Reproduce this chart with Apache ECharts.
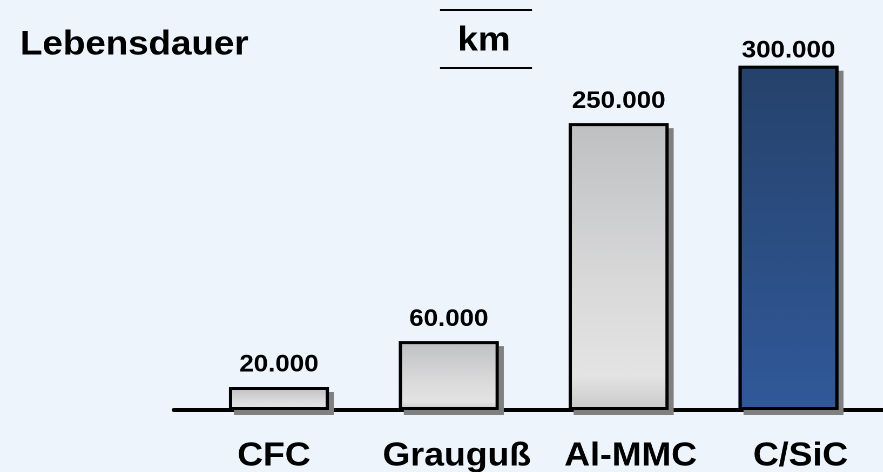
<!DOCTYPE html>
<html>
<head>
<meta charset="utf-8">
<script src="https://cdn.jsdelivr.net/npm/echarts@6/dist/echarts.min.js"></script>
<style>
  html, body { margin: 0; padding: 0; background: #edf4fc; overflow: hidden; }
  #chart { height: 472px; transform-origin: 0 0; }
</style>
</head>
<body>
<div id="chart"></div>
<script>
// Brake disc materials and their service life in kilometres
const categories = ['CFC', 'Grauguß', 'Al-MMC', 'C/SiC'];
const lifetimeKm = [20000, 60000, 250000, 300000];
const highlightCategory = 'C/SiC';
const unitLabel = 'km';
const chartTitle = 'Lebensdauer';

// The slide artwork is set in a slightly widened face: the chart is laid out
// in a narrower box and stretched horizontally to the full page width.
const PAGE_W = 883;
const STRETCH = 1.08;
const sx = px => px / STRETCH;

const FONT = '"Liberation Sans", Arial, Helvetica, sans-serif';
const INK = '#000000';

const gradient = stops => new echarts.graphic.LinearGradient(0, 0, 0, 1,
  stops.map(([offset, color]) => ({ offset, color })));
const SILVER = [[0, '#bfc0c2'], [0.55, '#d9d9da'], [0.88, '#e4e4e4'], [1, '#c9c9c9']];
const NAVY = [[0, '#25426b'], [1, '#31599a']];

// German thousands separator: 250000 -> "250.000"
const formatKm = v => String(v).replace(/\B(?=(\d{3})+(?!\d))/g, '.');

const maxValue = Math.max(...lifetimeKm);

const fillData = lifetimeKm.map((v, i) => ({
  value: v,
  itemStyle: { color: gradient(categories[i] === highlightCategory ? NAVY : SILVER) }
}));
const outlineData = lifetimeKm.map(v => ({
  value: v,
  label: { distance: v === maxValue ? 3 : 10 }
}));

const labelFont = { fontFamily: FONT, fontWeight: 'bold', fontSize: 33, lineHeight: 33, color: INK };

const el = document.getElementById('chart');
el.style.width = sx(PAGE_W) + 'px';
el.style.transform = `scaleX(${STRETCH})`;

const chart = echarts.init(el, null, { renderer: 'canvas', devicePixelRatio: 2 });

chart.setOption({
  backgroundColor: '#edf4fc',
  animation: false,
  title: {
    text: chartTitle,
    left: sx(20),
    top: 28,
    padding: 0,
    textStyle: { fontFamily: FONT, fontWeight: 'bold', fontSize: 34, lineHeight: 34, color: INK }
  },
  graphic: [
    { type: 'line', shape: { x1: sx(440), y1: 10, x2: sx(532), y2: 10 }, style: { stroke: INK, lineWidth: 2 } },
    { type: 'line', shape: { x1: sx(440), y1: 68, x2: sx(532), y2: 68 }, style: { stroke: INK, lineWidth: 2 } },
    {
      type: 'text', x: sx(484), y: 41,
      style: {
        text: unitLabel, fill: INK, align: 'center', verticalAlign: 'middle',
        font: 'bold 34px ' + FONT
      }
    }
  ],
  grid: [
    { left: sx(194), right: sx(10), top: 65.8, bottom: 62, outerBoundsMode: 'none' },
    { left: sx(174), right: 0, top: 65.8, bottom: 62, outerBoundsMode: 'none' }
  ],
  xAxis: [
    {
      type: 'category',
      gridIndex: 0,
      data: categories,
      axisLine: { show: false },
      axisTick: { show: false },
      splitLine: { show: false },
      axisLabel: {
        interval: 0,
        margin: 30,
        ...labelFont,
        formatter: (v, i) => `{c${i}|${v}}`,
        rich: {
          c0: { ...labelFont, padding: [0, sx(10), 0, 0] },
          c1: { ...labelFont, padding: [0, 0, 0, sx(16)] },
          c2: { ...labelFont, padding: [0, 0, 0, sx(24)] },
          c3: { ...labelFont, padding: [0, 0, 0, sx(24)] }
        }
      }
    },
    {
      // baseline running across the plot
      type: 'value',
      gridIndex: 1,
      min: 0,
      max: 1,
      axisLine: { show: true, lineStyle: { color: INK, width: 4 } },
      axisTick: { show: false },
      axisLabel: { show: false },
      splitLine: { show: false }
    }
  ],
  yAxis: [
    { type: 'value', gridIndex: 0, min: 0, max: maxValue, show: false, splitLine: { show: false } },
    { type: 'value', gridIndex: 1, min: 0, max: 1, show: false, splitLine: { show: false } }
  ],
  series: [
    {
      // filled bars with a hard drop shadow
      type: 'bar',
      xAxisIndex: 0,
      yAxisIndex: 0,
      data: fillData,
      barWidth: sx(100),
      barGap: '-100%',
      clip: false,
      silent: true,
      z: 2,
      itemStyle: {
        shadowColor: '#808080',
        shadowOffsetX: sx(5),
        shadowOffsetY: 5,
        shadowBlur: 0
      }
    },
    {
      // black outlines and value labels
      type: 'bar',
      xAxisIndex: 0,
      yAxisIndex: 0,
      data: outlineData,
      barWidth: sx(100),
      barGap: '-100%',
      clip: false,
      z: 3,
      itemStyle: { color: 'rgba(0,0,0,0)', borderColor: INK, borderWidth: 3 },
      label: {
        show: true,
        position: 'top',
        formatter: p => formatKm(p.value),
        fontFamily: FONT,
        fontWeight: 'bold',
        fontSize: 24,
        lineHeight: 24,
        color: INK
      }
    }
  ]
});
</script>
</body>
</html>
